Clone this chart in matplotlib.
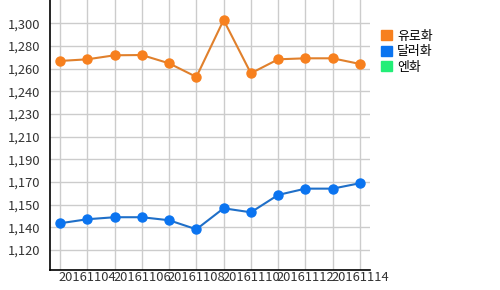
import matplotlib
matplotlib.use('Agg')
import matplotlib.pyplot as plt
from matplotlib.patches import Patch

plt.rcParams['font.family'] = ['Noto Sans CJK KR', 'DejaVu Sans']

dates = ['20161103', '20161104', '20161105', '20161106', '20161107', '20161108',
         '20161109', '20161110', '20161111', '20161112', '20161113', '20161114']
euro = [1270.1, 1271.4, 1274.6, 1274.8, 1268.2, 1257.4,
        1302.6, 1260.3, 1271.4, 1272.2, 1272.2, 1267.7]
dollar = [1141.2, 1144.4, 1146.0, 1146.0, 1143.6, 1136.4,
          1153.1, 1149.9, 1163.7, 1168.7, 1168.7, 1173.0]
series_names = ['유로화', '달러화', '엔화']
legend_colors = ['#f7801e', '#0b74f0', '#22ee77']
y_ticks = [1120 + 18 * k for k in range(11)]
y_labels = ['1,120', '1,140', '1,150', '1,170', '1,190', '1,210',
            '1,230', '1,240', '1,260', '1,280', '1,300']

fig = plt.figure(figsize=(5, 2.9), dpi=100)
ax = fig.add_axes([0.1, 0.069, 0.64, 0.931])

x = list(range(len(dates)))
ax.plot(x, euro, color='#e0802c', lw=1.5, marker='o', ms=6.5,
        mfc='#f7801e', mec='#f7801e', zorder=3)
ax.plot(x, dollar, color='#1f6fc8', lw=1.5, marker='o', ms=6.5,
        mfc='#0b74f0', mec='#0b74f0', zorder=3)

ax.set_xlim(-0.37, 11.37)
ax.set_ylim(1104.1, 1318.5)
ax.set_xticks(x)
ax.set_xticklabels([d if i % 2 == 1 else '' for i, d in enumerate(dates)])
ax.set_yticks(y_ticks)
ax.set_yticklabels(y_labels)
ax.tick_params(length=0, labelsize=9.3, colors='#333333')
ax.tick_params(axis='x', pad=1)
ax.tick_params(axis='y', pad=7)
ax.grid(True, color='#cccccc', lw=1)
ax.set_axisbelow(True)
for s in ['top', 'right']:
    ax.spines[s].set_visible(False)
for s in ['left', 'bottom']:
    ax.spines[s].set_color('black')
    ax.spines[s].set_linewidth(1.2)

handles = [Patch(color=c, label=n) for c, n in zip(legend_colors, series_names)]
fig.legend(handles=handles, loc='upper left', bbox_to_anchor=(0.75, 0.92),
           frameon=False, fontsize=9.3, handlelength=0.8, handleheight=0.8,
           handletextpad=0.4, labelspacing=0.2, borderpad=0)

fig.savefig('out.png', dpi=100)
